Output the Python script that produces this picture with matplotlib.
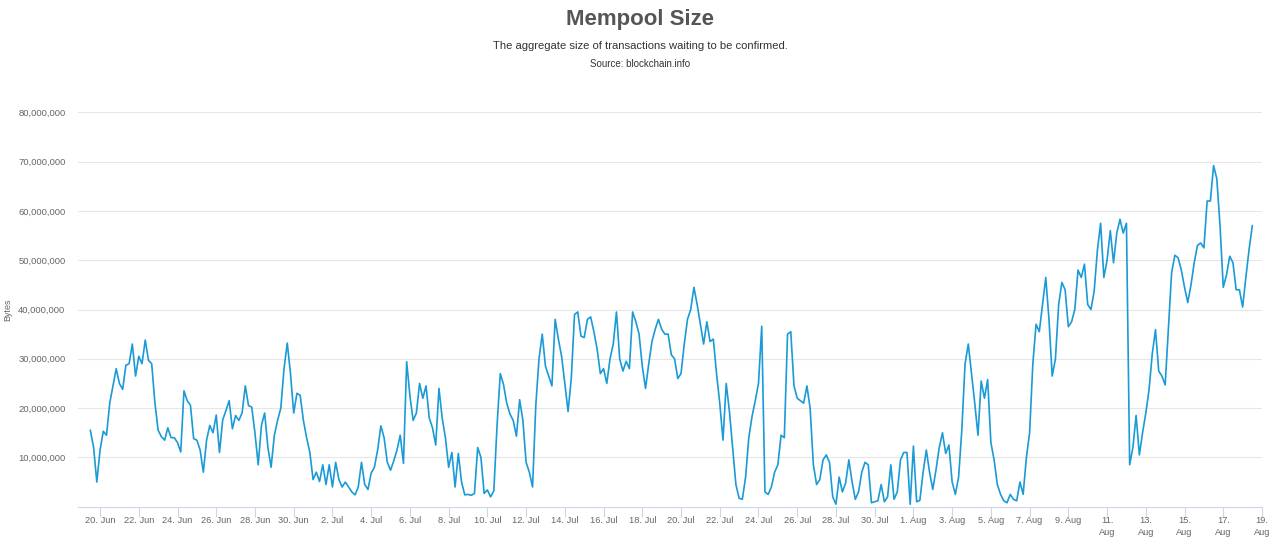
import matplotlib
matplotlib.use('Agg')
import matplotlib.pyplot as plt
import matplotlib.ticker as mticker
import numpy as np
import pandas as pd

# Mempool size, millions of bytes, one value every 4 hours
start = '2016-06-19 12:00'
step = '4h'
mempool_mb = [
    15.5, 12, 5,                          # 19 Jun (12h, 16h, 20h)
    11.5, 15.3, 14.5, 21, 24.5, 28,       # 20 Jun
    25, 23.8, 28.7, 29, 33, 26.5,         # 21 Jun
    30.5, 29, 33.8, 29.7, 29, 21,         # 22 Jun
    15.5, 14.2, 13.5, 16, 14, 14,         # 23 Jun
    13, 11.1, 23.5, 21.5, 20.6, 13.8,     # 24 Jun
    13.5, 11.5, 7, 13.5, 16.5, 15,        # 25 Jun
    18.6, 11, 17.6, 19.5, 21.5, 15.8,     # 26 Jun
    18.5, 17.5, 19, 24.5, 20.5, 20.2,     # 27 Jun
    14.9, 8.5, 16.5, 19, 12, 8,           # 28 Jun
    14.5, 17.5, 20, 28, 33.2, 27,         # 29 Jun
    19, 23, 22.6, 17.5, 14, 11,           # 30 Jun
    5.5, 7, 5.1, 8.5, 4.5, 8.5,           # 1 Jul
    4, 9, 5.5, 4, 5, 4,                   # 2 Jul
    3, 2.4, 4, 9, 4.5, 3.5,               # 3 Jul
    6.8, 8, 11.5, 16.4, 14, 9,            # 4 Jul
    7.4, 9.3, 11.5, 14.5, 8.8, 29.4,      # 5 Jul
    22.5, 17.5, 19, 25, 22, 24.5,         # 6 Jul
    18, 16, 12.5, 24, 18, 14,             # 7 Jul
    8, 11, 4, 10.8, 5, 2.4,               # 8 Jul
    2.5, 2.3, 2.7, 12, 10, 2.7,           # 9 Jul
    3.4, 2, 3.2, 16.5, 27, 24.8,          # 10 Jul
    21, 18.8, 17.5, 14.3, 21.7, 17.5,     # 11 Jul
    9, 7, 4, 20.5, 30, 35,                # 12 Jul
    28.5, 26.5, 24.5, 38, 34, 30.5,       # 13 Jul
    25, 19.3, 26, 39, 39.5, 34.6,         # 14 Jul
    34.3, 38, 38.5, 35.5, 32, 27,         # 15 Jul
    28, 25, 30, 33, 39.5, 30,             # 16 Jul
    27.5, 29.5, 28, 39.5, 37.5, 35,       # 17 Jul
    28.5, 24, 29, 33.5, 36, 38,           # 18 Jul
    36, 35, 35, 30.8, 30, 26,             # 19 Jul
    27, 33, 38, 40, 44.5, 41,             # 20 Jul
    37, 33, 37.5, 33.5, 34, 27,           # 21 Jul
    21, 13.5, 25, 19.3, 12, 4.5,          # 22 Jul
    1.7, 1.5, 6, 14, 18.3, 21.5,          # 23 Jul
    25, 36.6, 3, 2.5, 4, 7,               # 24 Jul
    8.5, 14.5, 14, 35, 35.5, 24.5,        # 25 Jul
    22, 21.5, 21, 24.5, 20, 8.5,          # 26 Jul
    4.5, 5.5, 9.5, 10.5, 9, 2,            # 27 Jul
    0.5, 6, 3, 4.8, 9.5, 5,               # 28 Jul
    1.5, 3, 7, 9, 8.5, 0.8,               # 29 Jul
    1, 1.2, 4.5, 1, 2, 8.5,               # 30 Jul
    1.5, 3, 9.5, 11, 11, 0.5,             # 31 Jul
    12.3, 1, 1.3, 7, 11.5, 7,             # 1 Aug
    3.5, 7.5, 12, 15, 10.8, 12.5,         # 2 Aug
    5, 2.5, 6, 15.6, 29, 33,              # 3 Aug
    27.1, 21, 14.5, 25.5, 22, 25.8,       # 4 Aug
    13, 9.5, 4.5, 2.5, 1.2, 0.8,          # 5 Aug
    2.5, 1.5, 1.2, 5, 2.5, 10,            # 6 Aug
    15, 29, 37, 35.5, 41, 46.5,           # 7 Aug
    38, 26.5, 30, 41, 45.5, 44,           # 8 Aug
    36.5, 37.5, 40, 48, 46.5, 49.2,       # 9 Aug
    41, 40, 43.7, 52, 57.5, 46.5,         # 10 Aug
    50, 56, 49.5, 55.5, 58.3, 55.5,       # 11 Aug
    57.5, 8.5, 12, 18.5, 10.5, 15,        # 12 Aug
    19, 23.7, 31, 35.9, 27.5, 26.5,       # 13 Aug
    24.7, 36, 47.5, 51, 50.5, 48,         # 14 Aug
    44.5, 41.4, 45, 49.5, 53, 53.5,       # 15 Aug
    52.5, 62, 62, 69.2, 66.5, 57,         # 16 Aug
    44.5, 47, 50.8, 49.5, 44, 44,         # 17 Aug
    40.5, 46.5, 52.2, 57,                 # 18 Aug (0h .. 12h)
]

y_ticks = [10e6, 20e6, 30e6, 40e6, 50e6, 60e6, 70e6, 80e6]
x_ticks = pd.date_range('2016-06-20', '2016-08-19', freq='2D')

plt.rcParams['font.family'] = ['Liberation Sans', 'DejaVu Sans']

times = pd.date_range(start, periods=len(mempool_mb), freq=step)
values = np.array(mempool_mb) * 1e6

fig = plt.figure(figsize=(12.8, 5.53), dpi=100)
ax = fig.add_axes([78 / 1280, 46.3 / 553, 1184 / 1280, 394.4 / 553])

ax.plot(times, values, color='#1a9ad6', linewidth=1.2, solid_joinstyle='round')

ax.set_ylim(0, 80e6)
ax.set_xlim(pd.Timestamp('2016-06-18 20:40'), pd.Timestamp('2016-08-19 00:00'))

# grid and axes styling
ax.set_yticks(y_ticks)
ax.yaxis.set_major_formatter(mticker.FuncFormatter(lambda v, p: f'{v:,.0f}'))
ax.grid(axis='y', color='#e6e6e6', linewidth=0.8)
ax.set_axisbelow(True)
for side in ['top', 'right', 'left']:
    ax.spines[side].set_visible(False)
ax.spines['bottom'].set_color('#ccd6eb')
ax.spines['bottom'].set_linewidth(0.8)
ax.tick_params(axis='y', length=0, pad=9, labelsize=6.8, labelcolor='#666666')

labels = []
for d in x_ticks:
    if d >= pd.Timestamp('2016-08-11'):
        labels.append(f'{d.day}.\n{d:%b}')
    else:
        labels.append(f'{d.day}. {d:%b}')
ax.set_xticks(x_ticks)
ax.set_xticklabels(labels, linespacing=1.35, va='top')
ax.tick_params(axis='x', length=7, width=0.8, color='#ccd6eb', pad=0,
               labelsize=6.7, labelcolor='#666666')

ax.set_ylabel('Bytes', fontsize=6.5, color='#666666')
ax.yaxis.set_label_coords(-66 / 1184, 0.5)

fig.text(0.5, 1 - 20 / 553, 'Mempool Size', ha='center', va='center',
         fontsize=16, fontweight='bold', color='#555555')
fig.text(0.5, 1 - 46 / 553, 'The aggregate size of transactions waiting to be confirmed.',
         ha='center', va='center', fontsize=8.1, color='#333333')
fig.text(0.5, 1 - 64 / 553, 'Source: blockchain.info', ha='center', va='center',
         fontsize=7, color='#333333')

fig.savefig('out.png', dpi=100)
plt.close(fig)
